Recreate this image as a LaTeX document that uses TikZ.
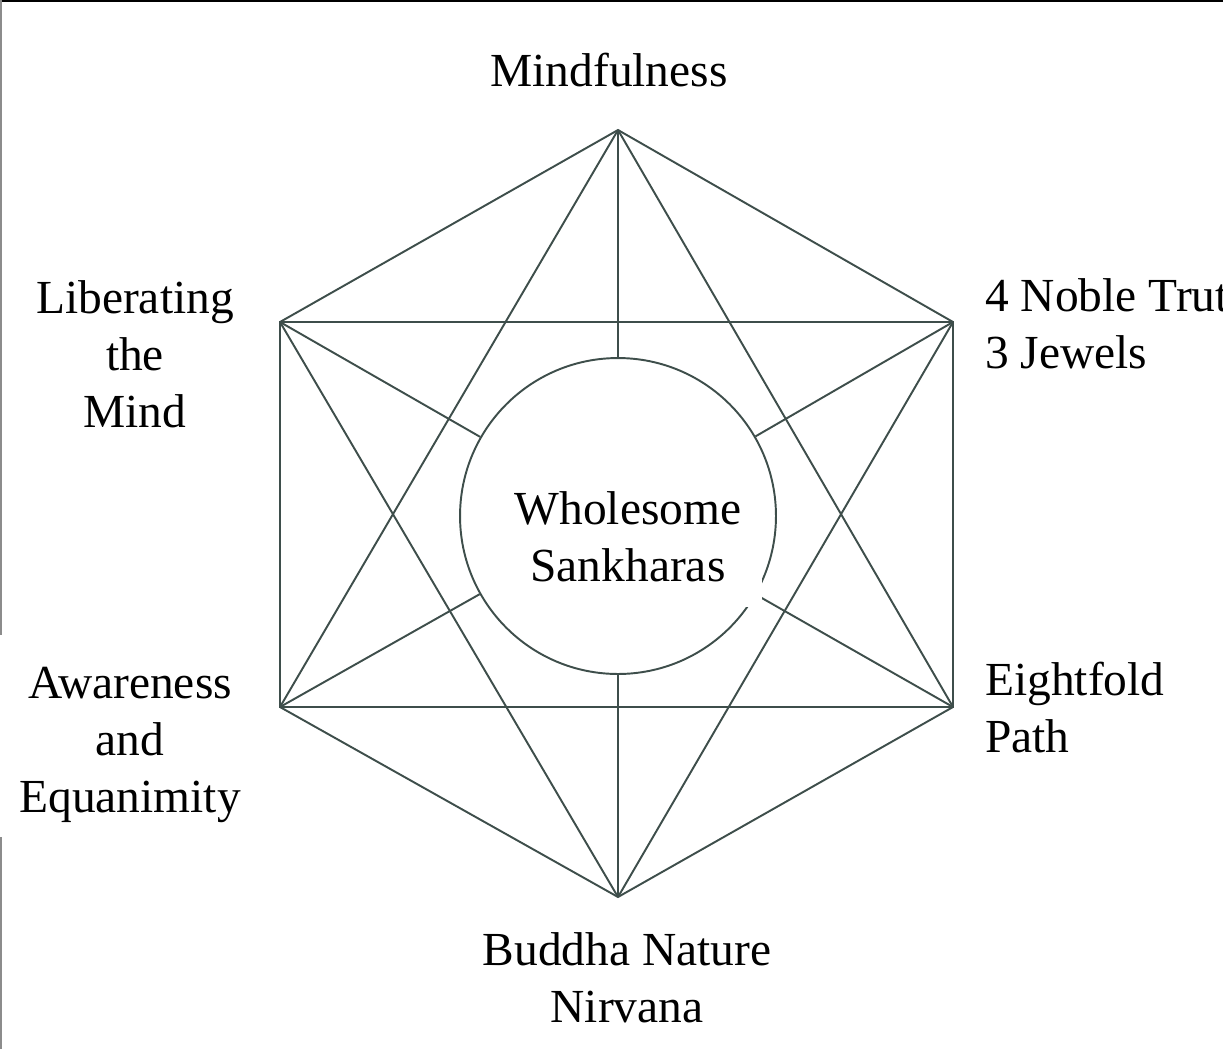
\documentclass[tikz,border=0pt]{standalone}
\usepackage{fontspec}
\setmainfont{Liberation Serif}
\definecolor{webSlate}{HTML}{3E4E4B}
\definecolor{edgeGrey}{HTML}{8C8C8C}

\begin{document}
\begin{tikzpicture}[x=0.02cm,y=-0.02cm,
  web/.style={line width=1.1pt,webSlate},
  word/.style={font=\fontsize{27}{32.4}\selectfont,inner sep=0pt}]
\useasboundingbox (0,0) rectangle (1223,1049);
% remains of the frame
\draw[line width=0.04cm,black] (0,1) -- (1223,1);
\draw[line width=0.04cm,edgeGrey] (1,0) -- (1,635);
\draw[line width=0.04cm,edgeGrey] (1,837) -- (1,1049);
% corners of the hexagon
\coordinate (top) at (618,130);
\coordinate (ur) at (953,322);
\coordinate (lr) at (953,707);
\coordinate (bot) at (618,897);
\coordinate (ll) at (280,707);
\coordinate (ul) at (280,322);
\node[web,draw,circle,minimum size=6.32cm,inner sep=0pt] (core) at (618,516){};
\draw[web] (top) -- (ur) -- (lr) -- (bot) -- (ll) -- (ul) -- cycle;
\draw[web] (ul) rectangle (lr);
\draw[web] (top) -- (lr) (top) -- (ll);
\draw[web] (bot) -- (ul) (bot) -- (ur);
\foreach \v in {top,ur,lr,bot,ll,ul}
  \draw[web] (\v) -- (core);
% labels (base = last line)
\node[word,fill=white,align=center,minimum width=5.36cm,minimum height=2.8cm] (heart) at (628,537){Wholesome\\Sankharas};
\node[word,anchor=base] (mind) at (609,86){Mindfulness};
\node[word,align=center,anchor=base] (free) at (135,427){Liberating\\the\\Mind};
\node[word,align=left,anchor=base west] (truth) at (985,368){4 Noble Truths\\3 Jewels};
\node[word,align=center,anchor=base] (aware) at (130,812){Awareness\\and\\Equanimity};
\node[word,align=left,anchor=base west] (path) at (985,752){Eightfold\\Path};
\node[word,align=center,anchor=base] (nature) at (627,1022){Buddha Nature\\Nirvana};
\end{tikzpicture}
\end{document}
